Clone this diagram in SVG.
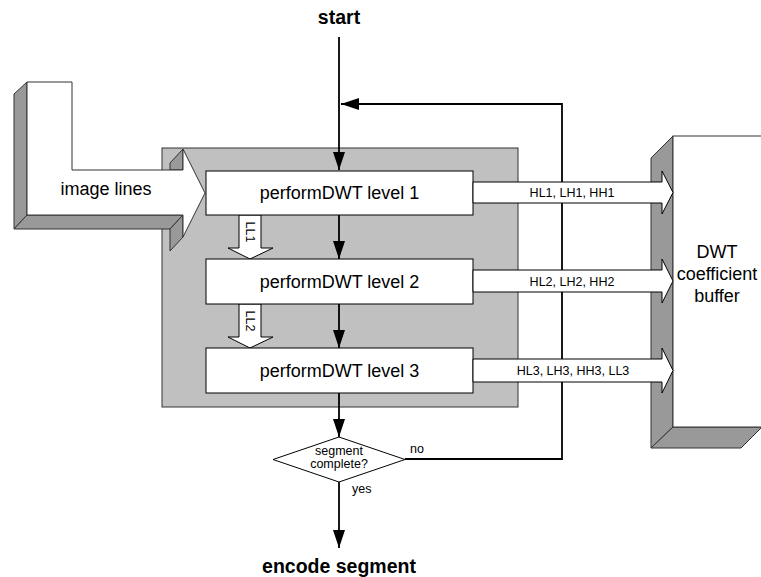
<svg xmlns="http://www.w3.org/2000/svg" width="761" height="577" viewBox="0 0 761 577">
<style>
.t{font-family:"Liberation Sans",Arial,sans-serif;fill:#000}
.big{font-size:18px}
.sm{font-size:12.5px}
.b{font-size:19.5px;font-weight:bold}
.box{fill:#fff;stroke:#000;stroke-width:1}
.side{fill:#999;stroke:#333;stroke-width:1;stroke-linejoin:round}
.face{fill:#fff;stroke:#333;stroke-width:1}
.conn{fill:none;stroke:#000;stroke-width:1.8}
.blk{fill:#fff;stroke:#000;stroke-width:1}
</style>
<defs>
<marker id="ah" markerUnits="userSpaceOnUse" markerWidth="18" markerHeight="12" refX="18" refY="6" orient="auto">
<path d="M0,0 L18,6 L0,12 z" fill="#000"/>
</marker>
</defs>
<rect width="761" height="577" fill="#fff"/>

<g id="container">
<rect x="162" y="148" width="356" height="259" fill="#c0c0c0" stroke="#333" stroke-width="1"/>
</g>

<g id="image-lines">
<polygon class="side" points="14,94 27,82 27,215 14,229"/>
<polygon class="side" points="14,229 27,215 183,215 170,229"/>
<polygon class="side" points="183,215 183,237 170,251 170,229"/>
<polygon class="side" points="183,149 170,163 170,170 183,170"/>
<polygon class="face" points="27,82 72,82 72,170 183,170 183,149 205,193 183,237 183,215 27,215"/>
<text class="t big" x="106" y="195" text-anchor="middle">image lines</text>
</g>

<g id="buffer">
<polygon class="side" points="651,158 673,136 673,427 651,448"/>
<polygon class="side" points="651,448 673,427 762,427 741,448"/>
<rect x="673" y="136" width="100" height="291" fill="#fff" stroke="#333" stroke-width="1"/>
<text class="t big" x="717" y="258" text-anchor="middle">DWT</text>
<text class="t big" x="717" y="280" text-anchor="middle">coefficient</text>
<text class="t big" x="717" y="302" text-anchor="middle">buffer</text>
</g>

<g id="connectors">
<line class="conn" x1="339" y1="37" x2="339" y2="170" marker-end="url(#ah)"/>
<polyline class="conn" points="405,459 562,459 562,104 341,104" marker-end="url(#ah)"/>
<line class="conn" x1="339" y1="215" x2="339" y2="259" marker-end="url(#ah)"/>
<line class="conn" x1="339" y1="304" x2="339" y2="348" marker-end="url(#ah)"/>
<line class="conn" x1="339" y1="393" x2="339" y2="437" marker-end="url(#ah)"/>
<line class="conn" x1="339" y1="482" x2="339" y2="548" marker-end="url(#ah)"/>
</g>

<g id="ll1">
<polygon class="blk" points="239,215 261,215 261,248 273,248 250,259 228,248 239,248"/>
<text class="t sm" transform="translate(246,232) rotate(90)" text-anchor="middle">LL1</text>
</g>
<g id="ll2">
<polygon class="blk" points="239,304 261,304 261,337 273,337 250,348 228,337 239,337"/>
<text class="t sm" transform="translate(246,321) rotate(90)" text-anchor="middle">LL2</text>
</g>

<g id="level1">
<rect class="box" x="206" y="171" width="267" height="44"/>
<text class="t big" x="339.5" y="199" text-anchor="middle">performDWT level 1</text>
</g>
<g id="level2">
<rect class="box" x="206" y="259" width="267" height="45"/>
<text class="t big" x="339.5" y="287.5" text-anchor="middle">performDWT level 2</text>
</g>
<g id="level3">
<rect class="box" x="206" y="348" width="267" height="45"/>
<text class="t big" x="339.5" y="376.5" text-anchor="middle">performDWT level 3</text>
</g>

<g id="out1">
<polygon class="blk" points="473,182 662,182 662,171 673,192.5 662,214 662,203 473,203"/>
<text class="t sm" x="572" y="197" text-anchor="middle">HL1, LH1, HH1</text>
</g>
<g id="out2">
<polygon class="blk" points="473,270 662,270 662,259 673,281 662,303 662,292 473,292"/>
<text class="t sm" x="572" y="285.5" text-anchor="middle">HL2, LH2, HH2</text>
</g>
<g id="out3">
<polygon class="blk" points="473,359 662,359 662,348 673,370.5 662,393 662,382 473,382"/>
<text class="t sm" x="573" y="375" text-anchor="middle">HL3, LH3, HH3, LL3</text>
</g>

<g id="decision">
<polygon class="box" points="339,437 405,459.5 339,482 273,459.5"/>
<text class="t sm" x="339" y="455" text-anchor="middle">segment</text>
<text class="t sm" x="339" y="468" text-anchor="middle">complete?</text>
</g>
<text class="t sm" x="410" y="453">no</text>
<text class="t sm" x="352" y="493">yes</text>

<g id="start"><text class="t b" x="339" y="24" text-anchor="middle">start</text></g>
<g id="encode"><text class="t b" x="339" y="573" text-anchor="middle">encode segment</text></g>
</svg>
